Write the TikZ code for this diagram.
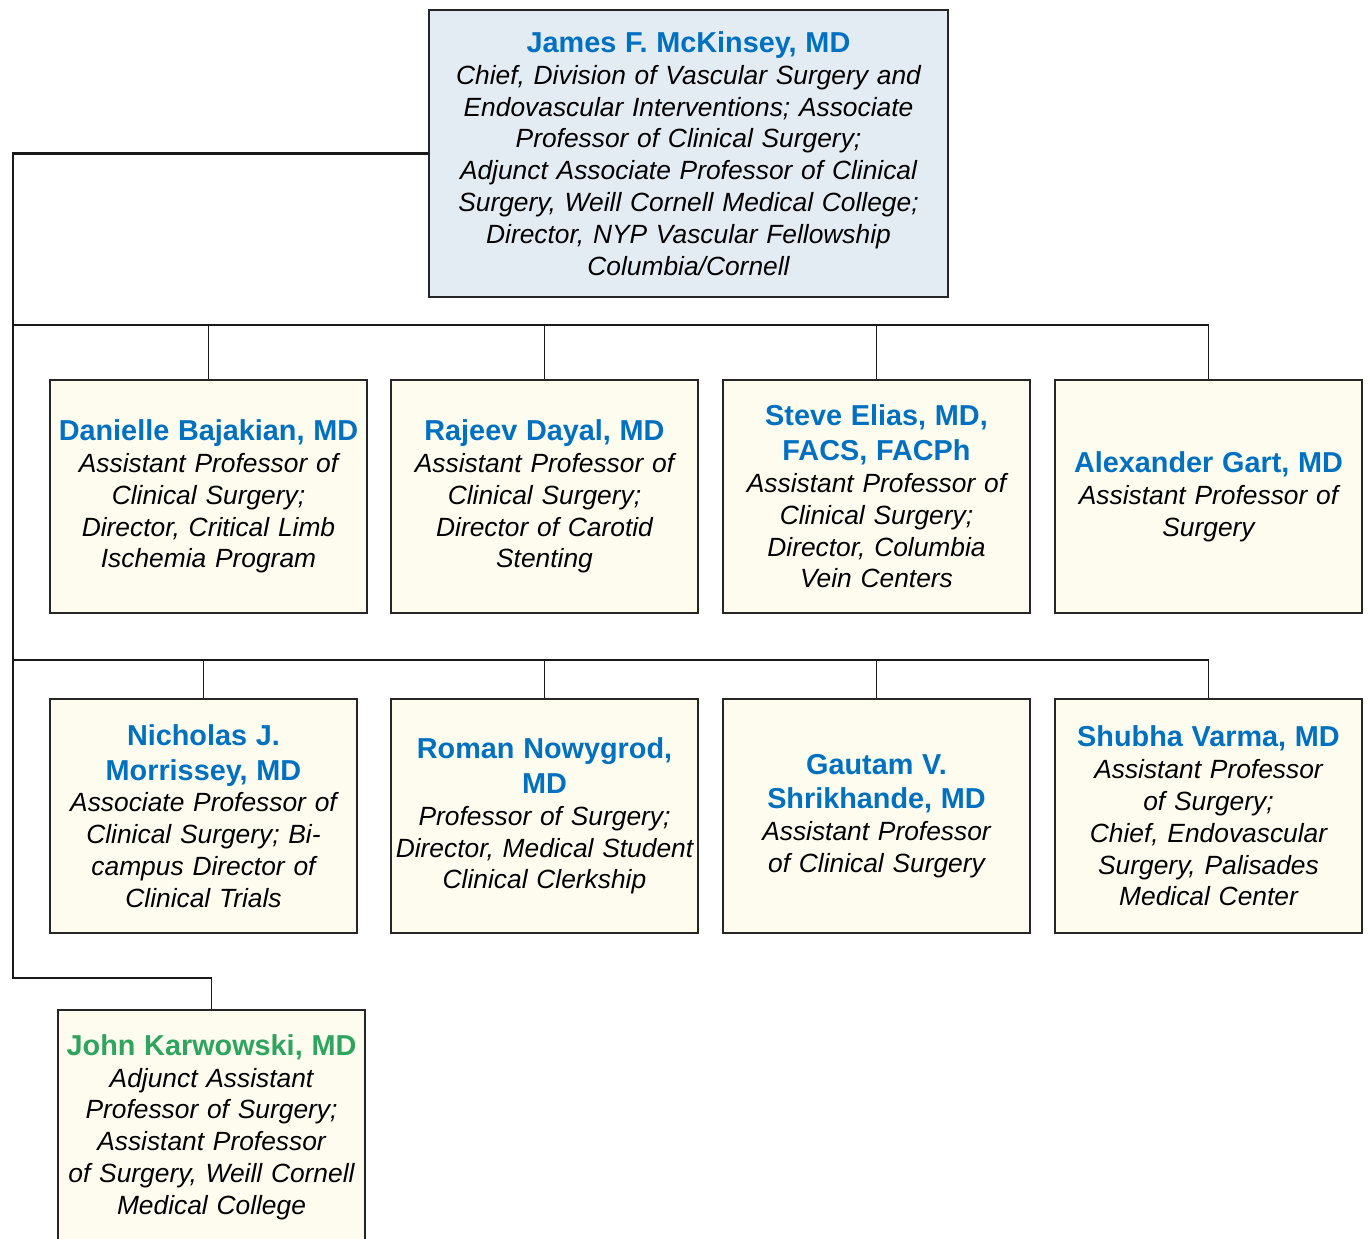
\documentclass[tikz,border=0pt]{standalone}
\usepackage{fontspec}
\setmainfont{Liberation Sans}
\usetikzlibrary{positioning}
\definecolor{nameblue}{HTML}{0070C0}
\definecolor{namegreen}{HTML}{2EA55F}
\definecolor{chieffill}{HTML}{E3EBF3}
\definecolor{stafffill}{HTML}{FEFCEF}
\newcommand{\docname}[2][nameblue]{{\fontsize{16.4}{19.8}\selectfont\upshape\bfseries\color{#1}#2\par}}

\tikzset{
  staff/.style={draw=black!85, line width=0.8pt, fill=stafffill,
    text width=6.06cm, inner xsep=0.04cm, inner ysep=0pt, align=center,
    minimum height=4.66cm, font=\fontsize{15}{18.1}\selectfont\itshape},
  wide/.style={text width=6.26cm},
  lower/.style={minimum height=4.68cm},
  chief/.style={staff, fill=chieffill, text width=10.3cm, minimum height=5.74cm},
  link/.style={draw=black!90, line width=0.7pt},
  bus/.style={draw=black!90, line width=1.5pt},
}

\begin{document}
\begin{tikzpicture}[x=0.02cm, y=-0.02cm]
    \useasboundingbox (0,0) rectangle (1369,1239);
    \clip (0,0) rectangle (1369,1239);

    \coordinate (trunk) at (13,0);
    \coordinate (rowA) at (0,325);
    \coordinate (rowB) at (0,660);
    \coordinate (rowC) at (0,978);

    \path
    (688.5,153.5) node[chief] (chief) {\docname{James F. McKinsey, MD}
      Chief, Division of Vascular Surgery and\\
      Endovascular Interventions; Associate\\
      Professor of Clinical Surgery;\\
      Adjunct Associate Professor of Clinical\\
      Surgery, Weill Cornell Medical College;\\
      Director, NYP Vascular Fellowship\\
      Columbia/Cornell}
    ;

    % first row
    \path
    (208.5,496.5) node[staff,wide] (bajakian) {\docname{Danielle Bajakian, MD}
      Assistant Professor of\\ Clinical Surgery;\\ Director, Critical Limb\\ Ischemia Program}
    (544.5,496.5) node[staff] (dayal) {\docname{Rajeev Dayal, MD}
      Assistant Professor of\\ Clinical Surgery;\\ Director of Carotid\\ Stenting}
    (876.5,496.5) node[staff] (elias) {\docname{Steve Elias, MD,\\ FACS, FACPh}
      Assistant Professor of\\ Clinical Surgery;\\ Director, Columbia\\ Vein Centers}
    (1208.5,496.5) node[staff] (gart) {\docname{Alexander Gart, MD}
      Assistant Professor of\\ Surgery}
    ;

    % second row
    \path
    (203.5,816) node[staff,lower] (morrissey) {\docname{Nicholas J.\\ Morrissey, MD}
      Associate Professor of\\ Clinical Surgery; Bi-\\ campus Director of\\ Clinical Trials}
    (544.5,816) node[staff,lower] (nowygrod) {\docname{Roman Nowygrod,\\ MD}
      Professor of Surgery;\\ Director, Medical Student\\ Clinical Clerkship}
    (876.5,816) node[staff,lower] (shrikhande) {\docname{Gautam V.\\ Shrikhande, MD}
      Assistant Professor\\ of Clinical Surgery}
    (1208.5,816) node[staff,lower] (varma) {\docname{Shubha Varma, MD}
      Assistant Professor\\ of Surgery;\\ Chief, Endovascular\\ Surgery, Palisades\\ Medical Center}
    ;

    \path
    (211.5,1127) node[staff,lower] (karwowski) {\docname[namegreen]{John Karwowski, MD}
      Adjunct Assistant\\ Professor of Surgery;\\ Assistant Professor\\ of Surgery, Weill Cornell\\ Medical College}
    ;

    % connectors
    \foreach \c in {bajakian,dayal,elias,gart}
      \draw[link] (chief.west) -| (trunk |- rowA) -| (\c.north);
    \foreach \c in {morrissey,nowygrod,shrikhande,varma}
      \draw[link] (chief.west) -| (trunk |- rowB) -| (\c.north);
    \draw[link] (chief.west) -| (trunk |- rowC) -| (karwowski.north);

    \draw[bus] (chief.west) -| (trunk |- rowB)
      (trunk |- rowA) -- (gart.north |- rowA)
      (trunk |- rowB) -- (varma.north |- rowB);
\end{tikzpicture}
\end{document}
